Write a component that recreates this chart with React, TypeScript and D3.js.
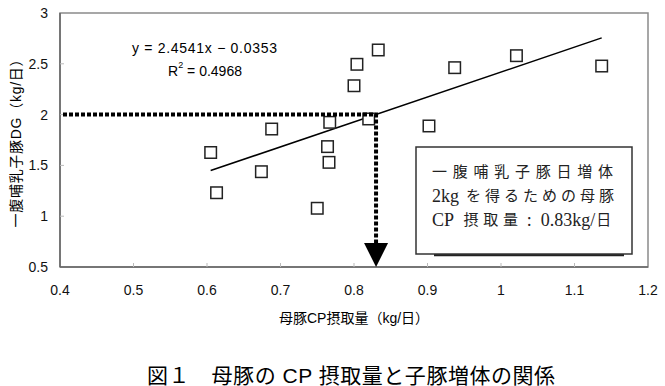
import React, { useEffect, useRef } from "react";
import * as d3 from "d3";

// 母豚CP摂取量 (kg/日) と 一腹哺乳子豚DG (kg/日)
const cpIntake = [0.605, 0.613, 0.674, 0.688, 0.75, 0.764, 0.766, 0.767, 0.8, 0.804, 0.82, 0.833, 0.902, 0.937, 1.021, 1.137];
const dailyGain = [1.627, 1.231, 1.438, 1.858, 1.078, 1.685, 1.53, 1.924, 2.284, 2.495, 1.957, 2.636, 1.888, 2.462, 2.58, 2.478];

const xTicks = [0.4, 0.5, 0.6, 0.7, 0.8, 0.9, 1, 1.1, 1.2];
const yTicks = [0.5, 1, 1.5, 2, 2.5, 3];

const slope = 2.4541;
const intercept = -0.0353;
const targetGain = 2;
const targetCp = 0.83;

const eqText = "y = 2.4541x − 0.0353";
const r2Value = " = 0.4968";
// box text: [text, isCjk, dx, letterSpacing]
const boxLines: [string, boolean, number, number][][] = [
  [["一腹哺乳子豚日増体", true, 0, 5.75]],
  [["2kg", false, 0, 0], ["を得るための母豚", true, 7, 4]],
  [["CP", false, 0, 0], ["摂取量", true, 9.5, 4.7], [":", false, 4, 0], ["0.83kg/", false, 9, 0], ["日", true, 1, 0]],
];
const xLabel = "母豚CP摂取量（kg/日）";
const yLabel = "一腹哺乳子豚DG（kg/日）";
const title = "図１　母豚の CP 摂取量と子豚増体の関係";

const SANS = "'Liberation Sans', Arial, 'Noto Sans CJK JP', sans-serif";
const SERIF = "'Liberation Serif', 'Noto Sans CJK JP', serif";

export default function App() {
  const ref = useRef<SVGSVGElement>(null);
  const width = 665;
  const height = 386;

  useEffect(() => {
    const svg = d3.select(ref.current);
    svg.selectAll("*").remove();
    const margin = { top: 13, right: 17, bottom: 119, left: 60 };

    const x = d3.scaleLinear().domain([0.4, 1.2]).range([margin.left, width - margin.right]);
    const y = d3.scaleLinear().domain([0.5, 3]).range([height - margin.bottom, margin.top]);

    svg.append("rect").attr("width", width).attr("height", height).attr("fill", "#fff");

    // frame
    svg
      .append("rect")
      .attr("x", x(0.4))
      .attr("y", y(3))
      .attr("width", x(1.2) - x(0.4))
      .attr("height", y(0.5) - y(3))
      .attr("fill", "none")
      .attr("stroke", "#8a8a8a")
      .attr("stroke-width", 1.5);
    svg.append("line").attr("x1", x(0.4)).attr("x2", x(0.4)).attr("y1", y(3)).attr("y2", y(0.5))
      .attr("stroke", "#666").attr("stroke-width", 1.5);
    svg.append("line").attr("x1", x(0.4)).attr("x2", x(1.2)).attr("y1", y(0.5)).attr("y2", y(0.5))
      .attr("stroke", "#666").attr("stroke-width", 1.5);

    // inner ticks
    svg.selectAll(".xt").data(xTicks.slice(1, -1)).join("line")
      .attr("x1", (d) => x(d)).attr("x2", (d) => x(d))
      .attr("y1", y(0.5)).attr("y2", y(0.5) - 4)
      .attr("stroke", "#bbb");
    svg.selectAll(".yt").data(yTicks.slice(1, -1)).join("line")
      .attr("x1", x(0.4)).attr("x2", x(0.4) + 4)
      .attr("y1", (d) => y(d)).attr("y2", (d) => y(d))
      .attr("stroke", "#bbb");

    // tick labels
    svg.selectAll(".xl").data(xTicks).join("text")
      .attr("x", (d) => x(d)).attr("y", y(0.5) + 23)
      .attr("text-anchor", "middle").attr("dominant-baseline", "central")
      .attr("font-family", SANS).attr("font-size", 14).attr("fill", "#111")
      .text((d) => String(d));
    svg.selectAll(".yl").data(yTicks).join("text")
      .attr("x", x(0.4) - 12).attr("y", (d) => y(d))
      .attr("text-anchor", "end").attr("dominant-baseline", "central")
      .attr("font-family", SANS).attr("font-size", 14).attr("fill", "#111")
      .text((d) => String(d));

    // trend line
    const [x0, x1] = d3.extent(cpIntake) as [number, number];
    svg.append("line")
      .attr("x1", x(x0)).attr("y1", y(slope * x0 + intercept))
      .attr("x2", x(x1)).attr("y2", y(slope * x1 + intercept))
      .attr("stroke", "#000").attr("stroke-width", 1.5);

    // points
    const s = 11.5;
    svg.selectAll(".pt").data(cpIntake).join("rect")
      .attr("x", (d) => x(d) - s / 2)
      .attr("y", (_d, i) => y(dailyGain[i]) - s / 2)
      .attr("width", s).attr("height", s)
      .attr("fill", "#fff").attr("stroke", "#222").attr("stroke-width", 1.5);

    // guide lines
    svg.append("path")
      .attr("d", `M${x(0.4) + 3},${y(targetGain)}H${x(targetCp)}V${y(0.5) - 22}`)
      .attr("fill", "none").attr("stroke", "#000").attr("stroke-width", 4)
      .attr("stroke-dasharray", "4 2");
    svg.append("path")
      .attr("d", `M${x(targetCp) - 12},${y(0.5) - 24}H${x(targetCp) + 12}L${x(targetCp)},${y(0.5)}Z`)
      .attr("fill", "#000");

    // equation
    svg.append("text")
      .attr("x", 204.5).attr("y", 47.7)
      .attr("text-anchor", "middle").attr("dominant-baseline", "central")
      .attr("font-family", SANS).attr("font-size", 14)
      .attr("textLength", 145).attr("lengthAdjust", "spacing")
      .text(eqText);
    const r2 = svg.append("text")
      .attr("x", 205).attr("y", 70.7)
      .attr("text-anchor", "middle").attr("dominant-baseline", "central")
      .attr("font-family", SANS).attr("font-size", 14);
    r2.append("tspan").text("R");
    r2.append("tspan").attr("font-size", 9).attr("dy", -6).text("2");
    r2.append("tspan").attr("dy", 6).text(r2Value);

    // annotation box
    const bx = 416, by = 147, bw = 216, bh = 107;
    svg.append("line").attr("x1", bx + 18).attr("x2", bx + bw - 8)
      .attr("y1", by + bh + 1).attr("y2", by + bh + 1)
      .attr("stroke", "#222").attr("stroke-width", 2.5);
    svg.append("rect").attr("x", bx).attr("y", by).attr("width", bw).attr("height", bh)
      .attr("fill", "#fff").attr("stroke", "#333").attr("stroke-width", 1.5);
    const lineY = [172, 196, 220];
    boxLines.forEach((segs, li) => {
      const t = svg.append("text")
        .attr("x", bx + 16).attr("y", lineY[li])
        .attr("dominant-baseline", "central")
        .attr("font-family", SERIF).attr("fill", "#222");
      segs.forEach(([txt, cjk, dx, ls]) => {
        t.append("tspan")
          .attr("dx", dx)
          .attr("font-size", cjk ? 15 : 18)
          .attr("letter-spacing", ls)
          .text(txt);
      });
    });

    // axis labels
    svg.append("text")
      .attr("x", (x(0.4) + x(1.2)) / 2).attr("y", 318)
      .attr("text-anchor", "middle").attr("dominant-baseline", "central")
      .attr("font-family", SANS).attr("font-size", 14)
      .text(xLabel);
    svg.append("text")
      .attr("transform", `translate(16, ${(y(0.5) + y(3)) / 2}) rotate(-90)`)
      .attr("text-anchor", "middle").attr("dominant-baseline", "central")
      .attr("font-family", SANS).attr("font-size", 14)
      .attr("textLength", 175).attr("lengthAdjust", "spacing")
      .text(yLabel);

    // title
    svg.append("text")
      .attr("x", 351).attr("y", 375)
      .attr("text-anchor", "middle").attr("dominant-baseline", "central")
      .attr("font-family", SANS).attr("font-size", 21)
      .attr("textLength", 408).attr("lengthAdjust", "spacing")
      .text(title);
  }, []);

  return (
    <svg
      ref={ref}
      width={width}
      height={height}
      style={{ position: "absolute", left: 0, top: 0 }}
    />
  );
}
